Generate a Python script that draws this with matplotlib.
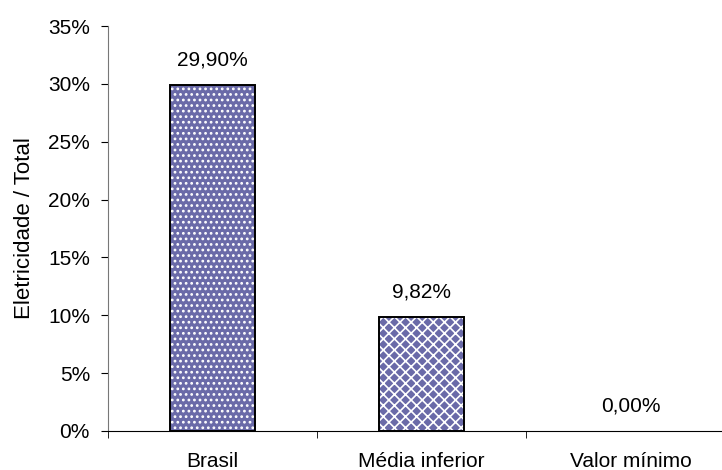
import numpy as np
import matplotlib
matplotlib.use('Agg')
import matplotlib.pyplot as plt
from matplotlib.ticker import FuncFormatter, FixedLocator

categories = ['Brasil', 'Média inferior', 'Valor mínimo']
values = [29.90, 9.82, 0.00]
value_labels = ['29,90%', '9,82%', '0,00%']
hatches = ['...', 'xxx', '']
yticks = [0, 5, 10, 15, 20, 25, 30, 35]

plt.rcParams['font.family'] = ['Liberation Sans', 'DejaVu Sans']
plt.rcParams['hatch.linewidth'] = 1.2

fig = plt.figure(figsize=(7.22, 4.70), dpi=100)
ax = fig.add_axes([108 / 722, 1 - 431 / 470, 627 / 722, 405 / 470])

x = np.arange(len(categories))
width = 0.41
face = '#6a6aa8'
fs = 15

# fill with white hatch, then black outline on top (zero bars get no outline)
ax.bar(x, values, width, color=face, edgecolor='white', linewidth=0,
       hatch=hatches, zorder=2)
outline = [1.4 if v > 0 else 0 for v in values]
ax.bar(x, values, width, fill=False, edgecolor='black', linewidth=outline, zorder=3)

for xi, v, lab in zip(x, values, value_labels):
    ax.annotate(lab, (xi, v), xytext=(0, 18), textcoords='offset points',
                ha='center', va='center', fontsize=fs)

ax.set_xlim(-0.5, len(categories) - 0.5)
ax.set_ylim(0, 35)
ax.set_yticks(yticks)
ax.yaxis.set_major_formatter(FuncFormatter(lambda v, p: '%d%%' % v))

ax.set_xticks(x)
ax.set_xticklabels(categories)
ax.xaxis.set_minor_locator(FixedLocator(np.arange(len(categories)) - 0.5))
ax.tick_params(axis='x', which='major', length=0, pad=15, labelsize=fs)
ax.tick_params(axis='x', which='minor', length=5, direction='out')
ax.tick_params(axis='y', length=5, direction='out', labelsize=fs, pad=8)

ax.set_ylabel('Eletricidade / Total', fontsize=16, labelpad=9)

ax.spines['top'].set_visible(False)
ax.spines['right'].set_visible(False)
ax.spines['left'].set_color('#777777')
ax.spines['bottom'].set_color('black')

fig.savefig('out.png', dpi=100)
